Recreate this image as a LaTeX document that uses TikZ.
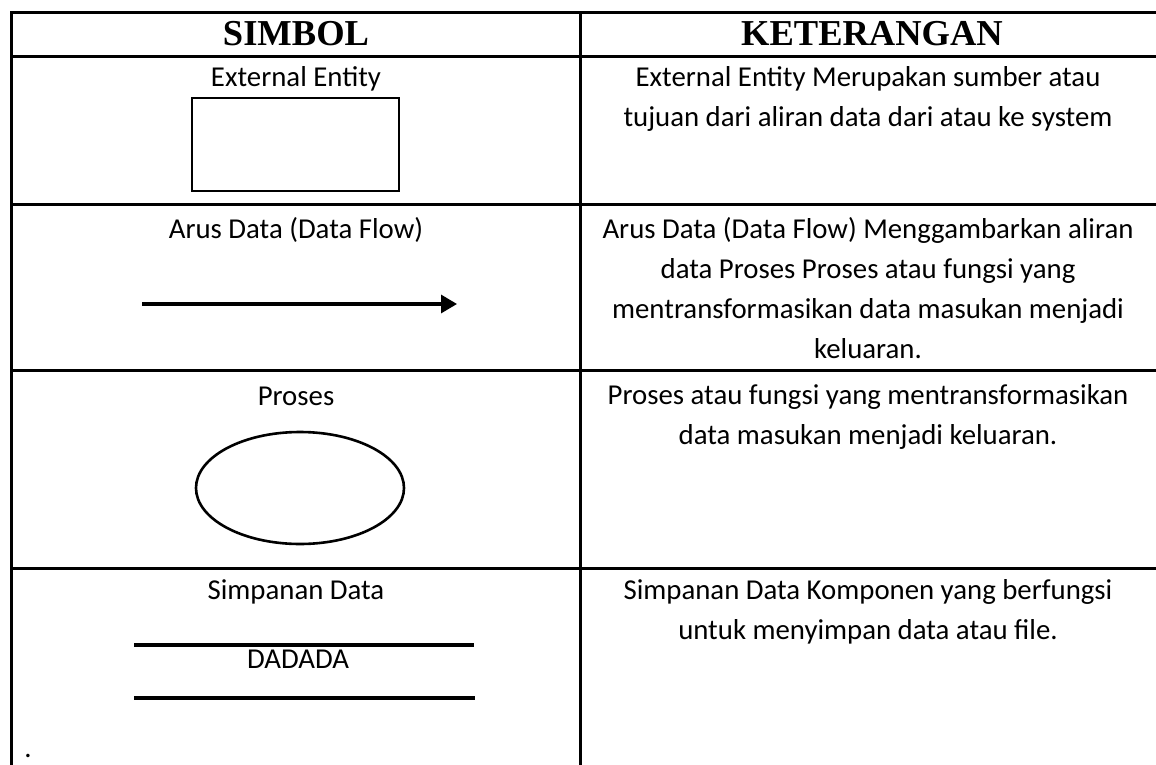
\documentclass[tikz,border=0pt]{standalone}
\usepackage{fontspec}
\setmainfont{Carlito}
\newfontfamily\headfont{Liberation Serif}
\usetikzlibrary{arrows.meta,shapes.geometric}

\tikzset{
  rule/.style={line width=3pt, line cap=rect},
  headtext/.style={anchor=base, inner sep=0pt, font=\headfont\bfseries\fontsize{36.5}{40}\selectfont},
  bodytext/.style={anchor=base, inner sep=0pt, font=\fontsize{28.8}{40}\selectfont},
  shapeline/.style={line width=2.6pt},
}

\begin{document}
\begin{tikzpicture}[x=1pt, y=-1pt]
  \useasboundingbox (0,0) rectangle (1156,765);
  \begin{scope}
    \clip (0,0) rectangle (1156,765);
    % table frame and grid
    \draw[rule] (11,770) -- (11,13) -- (1160,13);
    \draw[rule] (580,13) -- (580,770);
    \draw[rule] (11,57) -- (1160,57);
    \draw[rule] (11,204) -- (1160,204);
    \draw[rule] (11,370) -- (1160,370);
    \draw[rule] (11,568) -- (1160,568);
  \end{scope}

  % header
  \node[headtext] (hsym) at (296,46) {SIMBOL};
  \node[headtext] (hket) at (872,46) {KETERANGAN};

  % row 1: external entity
  \node[bodytext] (l1) at (296,87) {External Entity};
  \node[draw, shapeline, minimum width=207pt, minimum height=93pt, inner sep=0pt] (entity) at (295.5,144.5) {};
  \node[bodytext] (r1a) at (868,87) {External Entity Merupakan sumber atau};
  \node[bodytext] (r1b) at (868,127) {tujuan dari aliran data dari atau ke system};

  % row 2: data flow
  \node[bodytext] (l2) at (296,238) {Arus Data (Data Flow)};
  \coordinate (flowstart) at (142,304);
  \coordinate (flowend) at (457,304);
  \draw[line width=3.2pt, -{Triangle[length=16pt, width=18pt]}] (flowstart) -- (flowend);
  \node[bodytext] (r2a) at (868,238) {Arus Data (Data Flow) Menggambarkan aliran};
  \node[bodytext] (r2b) at (868,278) {data Proses Proses atau fungsi yang};
  \node[bodytext] (r2c) at (868,318) {mentransformasikan data masukan menjadi};
  \node[bodytext] (r2d) at (868,358) {keluaran.};

  % row 3: process
  \node[bodytext] (l3) at (296,405) {Proses};
  \node[draw, ellipse, shapeline, minimum width=208pt, minimum height=112pt, inner sep=0pt] (proc) at (300,488) {};
  \node[bodytext] (r3a) at (868,404) {Proses atau fungsi yang mentransformasikan};
  \node[bodytext] (r3b) at (868,444) {data masukan menjadi keluaran.};

  % row 4: data store
  \node[bodytext] (l4) at (296,599) {Simpanan Data};
  \coordinate (st1a) at (134,645);
  \coordinate (st1b) at (474,645);
  \coordinate (st2a) at (134,698);
  \coordinate (st2b) at (475,698);
  \draw[line width=3.2pt] (st1a) -- (st1b);
  \draw[line width=3.2pt] (st2a) -- (st2b);
  \node[bodytext] (store) at (298,668) {DADADA};
  \node[bodytext] (r4a) at (868,599) {Simpanan Data Komponen yang berfungsi};
  \node[bodytext] (r4b) at (868,639) {untuk menyimpan data atau file.};

  % stray full stop below the table
  \node[bodytext] (dot) at (28,757) {.};
\end{tikzpicture}
\end{document}
